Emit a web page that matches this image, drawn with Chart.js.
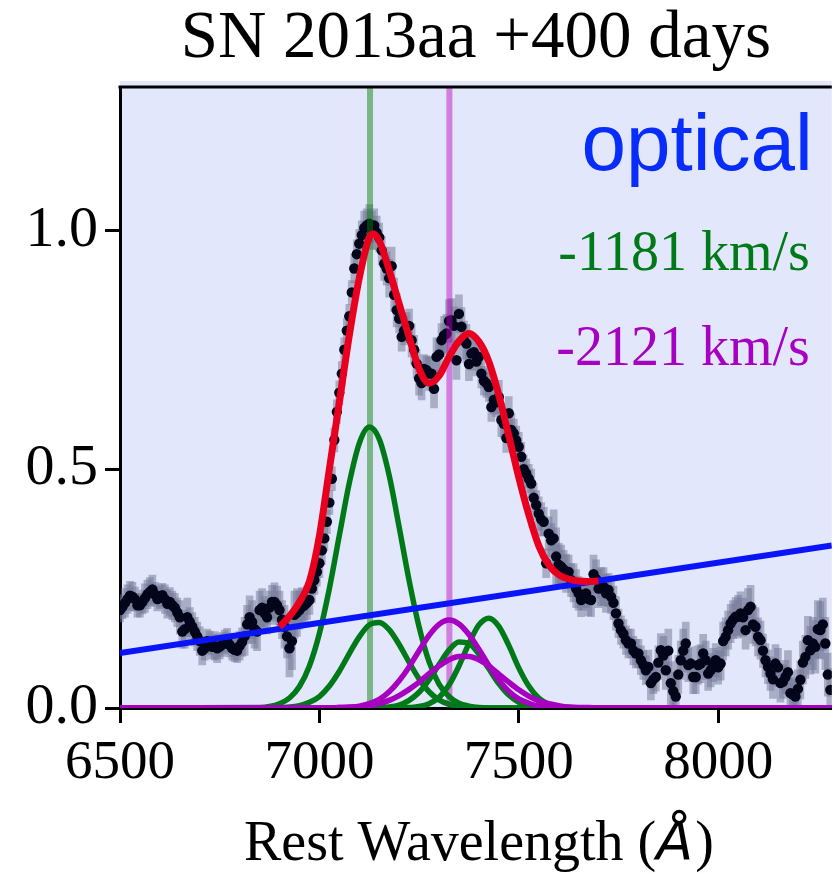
<!DOCTYPE html>
<html>
<head>
<meta charset="utf-8">
<script src="https://cdn.jsdelivr.net/npm/chart.js@4.4.0/dist/chart.umd.min.js"></script>
<style>
  html, body { margin: 0; padding: 0; background: #ffffff; overflow: hidden; }
  canvas { display: block; }
</style>
</head>
<body>
<canvas id="spec" width="837" height="873"></canvas>
<script>
// Observed nebular spectrum (rest wavelength in Angstrom, normalised flux, 1-sigma error)
const wave = [
  6500, 6506.25, 6512.5, 6518.75, 6525, 6531.25, 6537.5, 6543.75, 6550, 6556.25,
  6562.5, 6568.75, 6575, 6581.25, 6587.5, 6593.75, 6600, 6606.25, 6612.5, 6618.75,
  6625, 6631.25, 6637.5, 6643.75, 6650, 6656.25, 6662.5, 6668.75, 6675, 6681.25,
  6687.5, 6693.75, 6700, 6706.25, 6712.5, 6718.75, 6725, 6731.25, 6737.5, 6743.75,
  6750, 6756.25, 6762.5, 6768.75, 6775, 6781.25, 6787.5, 6793.75, 6800, 6806.25,
  6812.5, 6818.75, 6825, 6831.25, 6837.5, 6843.75, 6850, 6856.25, 6862.5, 6868.75,
  6875, 6881.25, 6887.5, 6893.75, 6900, 6906.25, 6912.5, 6918.75, 6925, 6931.25,
  6937.5, 6943.75, 6950, 6956.25, 6962.5, 6968.75, 6975, 6981.25, 6987.5, 6993.75,
  7000, 7006.25, 7012.5, 7018.75, 7025, 7031.25, 7037.5, 7043.75, 7050, 7056.25,
  7062.5, 7068.75, 7075, 7081.25, 7087.5, 7093.75, 7100, 7106.25, 7112.5, 7118.75,
  7125, 7131.25, 7137.5, 7143.75, 7150, 7156.25, 7162.5, 7168.75, 7175, 7181.25,
  7187.5, 7193.75, 7200, 7206.25, 7212.5, 7218.75, 7225, 7231.25, 7237.5, 7243.75,
  7250, 7256.25, 7262.5, 7268.75, 7275, 7281.25, 7287.5, 7293.75, 7300, 7306.25,
  7312.5, 7318.75, 7325, 7331.25, 7337.5, 7343.75, 7350, 7356.25, 7362.5, 7368.75,
  7375, 7381.25, 7387.5, 7393.75, 7400, 7406.25, 7412.5, 7418.75, 7425, 7431.25,
  7437.5, 7443.75, 7450, 7456.25, 7462.5, 7468.75, 7475, 7481.25, 7487.5, 7493.75,
  7500, 7506.25, 7512.5, 7518.75, 7525, 7531.25, 7537.5, 7543.75, 7550, 7556.25,
  7562.5, 7568.75, 7575, 7581.25, 7587.5, 7593.75, 7600, 7606.25, 7612.5, 7618.75,
  7625, 7631.25, 7637.5, 7643.75, 7650, 7656.25, 7662.5, 7668.75, 7675, 7681.25,
  7687.5, 7693.75, 7700, 7706.25, 7712.5, 7718.75, 7725, 7731.25, 7737.5, 7743.75,
  7750, 7756.25, 7762.5, 7768.75, 7775, 7781.25, 7787.5, 7793.75, 7800, 7806.25,
  7812.5, 7818.75, 7825, 7831.25, 7837.5, 7843.75, 7850, 7856.25, 7862.5, 7868.75,
  7875, 7881.25, 7887.5, 7893.75, 7900, 7906.25, 7912.5, 7918.75, 7925, 7931.25,
  7937.5, 7943.75, 7950, 7956.25, 7962.5, 7968.75, 7975, 7981.25, 7987.5, 7993.75,
  8000, 8006.25, 8012.5, 8018.75, 8025, 8031.25, 8037.5, 8043.75, 8050, 8056.25,
  8062.5, 8068.75, 8075, 8081.25, 8087.5, 8093.75, 8100, 8106.25, 8112.5, 8118.75,
  8125, 8131.25, 8137.5, 8143.75, 8150, 8156.25, 8162.5, 8168.75, 8175, 8181.25,
  8187.5, 8193.75, 8200, 8206.25, 8212.5, 8218.75, 8225, 8231.25, 8237.5, 8243.75,
  8250, 8256.25, 8262.5, 8268.75, 8275, 8281.25];

const flux = [
  0.205, 0.212, 0.220, 0.228, 0.235, 0.233, 0.228, 0.215, 0.215, 0.222,
  0.230, 0.238, 0.243, 0.248, 0.238, 0.228, 0.233, 0.236, 0.228, 0.218,
  0.222, 0.215, 0.210, 0.200, 0.190, 0.160, 0.165, 0.190, 0.180, 0.170,
  0.160, 0.150, 0.140, 0.120, 0.125, 0.140, 0.136, 0.128, 0.130, 0.125,
  0.128, 0.133, 0.138, 0.142, 0.132, 0.125, 0.122, 0.120, 0.130, 0.138,
  0.150, 0.175, 0.190, 0.180, 0.165, 0.160, 0.205, 0.210, 0.198, 0.190,
  0.210, 0.222, 0.222, 0.215, 0.205, 0.185, 0.170, 0.150, 0.125, 0.140,
  0.195, 0.200, 0.205, 0.212, 0.215, 0.220, 0.226, 0.250, 0.268, 0.285,
  0.303, 0.330, 0.355, 0.390, 0.430, 0.480, 0.561, 0.620, 0.660, 0.700,
  0.750, 0.790, 0.820, 0.870, 0.920, 0.950, 0.972, 0.990, 1.005, 1.010,
  1.014, 1.000, 1.010, 0.995, 0.985, 0.958, 0.930, 0.920, 0.900, 0.925,
  0.865, 0.833, 0.815, 0.777, 0.790, 0.798, 0.800, 0.770, 0.750, 0.721,
  0.690, 0.680, 0.710, 0.707, 0.700, 0.700, 0.668, 0.735, 0.740, 0.770,
  0.780, 0.784, 0.810, 0.812, 0.800, 0.728, 0.825, 0.798, 0.770, 0.763,
  0.720, 0.742, 0.745, 0.725, 0.735, 0.700, 0.685, 0.680, 0.672, 0.630,
  0.645, 0.640, 0.651, 0.603, 0.595, 0.565, 0.617, 0.582, 0.575, 0.560,
  0.547, 0.526, 0.500, 0.491, 0.480, 0.470, 0.440, 0.425, 0.407, 0.395,
  0.390, 0.303, 0.365, 0.351, 0.355, 0.317, 0.300, 0.296, 0.290, 0.282,
  0.285, 0.268, 0.262, 0.250, 0.240, 0.226, 0.235, 0.240, 0.228, 0.226,
  0.280, 0.270, 0.250, 0.254, 0.254, 0.240, 0.247, 0.233, 0.220, 0.198,
  0.177, 0.163, 0.155, 0.142, 0.135, 0.135, 0.120, 0.114, 0.114, 0.100,
  0.090, 0.079, 0.086, 0.052, 0.060, 0.065, 0.095, 0.121, 0.110, 0.079,
  0.120, 0.052, 0.035, 0.024, 0.070, 0.100, 0.120, 0.135, 0.090, 0.093,
  0.065, 0.065, 0.090, 0.093, 0.114, 0.100, 0.072, 0.079, 0.090, 0.100,
  0.085, 0.093, 0.140, 0.149, 0.163, 0.177, 0.185, 0.191, 0.191, 0.198,
  0.190, 0.163, 0.205, 0.212, 0.175, 0.170, 0.149, 0.142, 0.120, 0.100,
  0.086, 0.072, 0.060, 0.093, 0.085, 0.052, 0.055, 0.065, 0.075, 0.031,
  0.028, 0.024, 0.040, 0.059, 0.095, 0.107, 0.142, 0.121, 0.135, 0.128,
  0.165, 0.163, 0.175, 0.135, 0.070, 0.038];

const fluxErr = [
  0.025, 0.025, 0.030, 0.030, 0.030, 0.030, 0.025, 0.025, 0.025, 0.025,
  0.030, 0.030, 0.030, 0.030, 0.025, 0.025, 0.025, 0.025, 0.030, 0.030,
  0.030, 0.030, 0.030, 0.030, 0.035, 0.035, 0.040, 0.040, 0.030, 0.030,
  0.030, 0.030, 0.030, 0.030, 0.025, 0.025, 0.025, 0.025, 0.030, 0.030,
  0.025, 0.025, 0.025, 0.025, 0.025, 0.025, 0.025, 0.025, 0.030, 0.030,
  0.040, 0.040, 0.045, 0.045, 0.040, 0.040, 0.040, 0.040, 0.035, 0.035,
  0.035, 0.035, 0.040, 0.040, 0.040, 0.040, 0.045, 0.045, 0.060, 0.060,
  0.050, 0.050, 0.040, 0.040, 0.035, 0.035, 0.030, 0.030, 0.030, 0.030,
  0.030, 0.030, 0.025, 0.025, 0.025, 0.025, 0.025, 0.025, 0.025, 0.025,
  0.025, 0.025, 0.025, 0.025, 0.030, 0.030, 0.030, 0.030, 0.035, 0.035,
  0.040, 0.040, 0.035, 0.035, 0.030, 0.030, 0.035, 0.035, 0.040, 0.040,
  0.035, 0.035, 0.030, 0.030, 0.030, 0.030, 0.035, 0.035, 0.030, 0.030,
  0.035, 0.035, 0.030, 0.030, 0.035, 0.035, 0.040, 0.040, 0.035, 0.035,
  0.040, 0.040, 0.045, 0.045, 0.040, 0.040, 0.040, 0.040, 0.040, 0.040,
  0.035, 0.035, 0.030, 0.030, 0.030, 0.030, 0.030, 0.030, 0.030, 0.030,
  0.030, 0.030, 0.035, 0.035, 0.030, 0.030, 0.035, 0.035, 0.030, 0.030,
  0.030, 0.030, 0.030, 0.030, 0.030, 0.030, 0.030, 0.030, 0.035, 0.035,
  0.030, 0.030, 0.035, 0.035, 0.060, 0.060, 0.045, 0.045, 0.040, 0.040,
  0.035, 0.035, 0.040, 0.040, 0.035, 0.035, 0.030, 0.030, 0.035, 0.035,
  0.040, 0.040, 0.040, 0.040, 0.040, 0.040, 0.035, 0.035, 0.035, 0.035,
  0.030, 0.030, 0.030, 0.030, 0.030, 0.030, 0.030, 0.030, 0.030, 0.030,
  0.030, 0.030, 0.035, 0.035, 0.030, 0.030, 0.035, 0.035, 0.040, 0.040,
  0.045, 0.045, 0.040, 0.040, 0.040, 0.040, 0.045, 0.045, 0.035, 0.035,
  0.035, 0.035, 0.040, 0.040, 0.040, 0.040, 0.035, 0.035, 0.035, 0.035,
  0.035, 0.035, 0.040, 0.040, 0.040, 0.040, 0.040, 0.040, 0.045, 0.045,
  0.040, 0.040, 0.045, 0.045, 0.040, 0.040, 0.040, 0.040, 0.035, 0.035,
  0.035, 0.035, 0.040, 0.040, 0.040, 0.040, 0.035, 0.035, 0.045, 0.045,
  0.035, 0.035, 0.040, 0.040, 0.045, 0.045, 0.050, 0.050, 0.055, 0.055,
  0.060, 0.060, 0.055, 0.055, 0.045, 0.045];

// Linear pseudo-continuum under the blend
const contWave = [6500, 8285];
const contFlux = [0.115, 0.340];

// Total model fit (continuum + all Gaussian components)
const fitWave = [6900, 6925, 6950, 6975, 7000, 7025, 7050, 7075, 7100, 7125, 7135,
  7150, 7175, 7200, 7225, 7250, 7275, 7300, 7325, 7350, 7375, 7400, 7425,
  7450, 7475, 7500, 7525, 7550, 7575, 7600, 7625, 7650, 7675, 7700];
const fitFlux = [0.170, 0.192, 0.222, 0.265, 0.360, 0.500, 0.640, 0.780, 0.900, 0.985, 0.993,
  0.978, 0.917, 0.846, 0.777, 0.710, 0.680, 0.695, 0.735, 0.768, 0.784, 0.767, 0.725,
  0.655, 0.570, 0.483, 0.405, 0.340, 0.300, 0.279, 0.270, 0.266, 0.265, 0.266];

// Individual Gaussian components, sampled on a common wavelength grid
const compWave = [6500, 6850, 6875, 6900, 6925, 6950, 6975, 7000, 7025, 7050, 7075,
  7100, 7125, 7150, 7175, 7200, 7225, 7250, 7275, 7300, 7325, 7350, 7375,
  7400, 7425, 7450, 7475, 7500, 7525, 7550, 7575, 7600, 7625, 7650, 7675,
  7700, 7725, 7750, 8285];
// [Fe II] 7155
const fe7155 = [0, 0.001, 0.003, 0.009, 0.021, 0.045, 0.088, 0.156, 0.250, 0.361, 0.471,
  0.554, 0.588, 0.563, 0.487, 0.379, 0.267, 0.170, 0.097, 0.050, 0.024, 0.010, 0.004,
  0.001, 0, 0, 0, 0, 0, 0, 0, 0, 0, 0, 0, 0, 0, 0, 0];
// [Fe II] 7172
const fe7172 = [0, 0, 0, 0.001, 0.002, 0.005, 0.012, 0.024, 0.046, 0.077, 0.114,
  0.149, 0.174, 0.179, 0.164, 0.133, 0.096, 0.061, 0.034, 0.017, 0.008, 0.003, 0.001,
  0, 0, 0, 0, 0, 0, 0, 0, 0, 0, 0, 0, 0, 0, 0, 0];
// [Fe II] 7388
const fe7388 = [0, 0, 0, 0, 0, 0, 0, 0, 0, 0, 0,
  0, 0, 0.001, 0.002, 0.006, 0.016, 0.033, 0.059, 0.091, 0.121, 0.138, 0.135,
  0.113, 0.082, 0.051, 0.027, 0.012, 0.005, 0.002, 0.001, 0, 0, 0, 0, 0, 0, 0, 0];
// [Fe II] 7453
const fe7453 = [0, 0, 0, 0, 0, 0, 0, 0, 0, 0, 0,
  0, 0, 0, 0, 0, 0.001, 0.003, 0.009, 0.022, 0.048, 0.088, 0.135,
  0.174, 0.188, 0.171, 0.131, 0.084, 0.046, 0.021, 0.008, 0.003, 0.001, 0, 0, 0, 0, 0, 0];
// [Ni II] 7378
const ni7378 = [0, 0, 0, 0, 0, 0, 0, 0, 0, 0.001, 0.002,
  0.004, 0.009, 0.018, 0.034, 0.057, 0.086, 0.120, 0.152, 0.175, 0.184, 0.176, 0.154,
  0.123, 0.089, 0.059, 0.035, 0.019, 0.010, 0.004, 0.002, 0.001, 0, 0, 0, 0, 0, 0, 0];
// [Ni II] 7412
const ni7412 = [0, 0, 0, 0, 0, 0, 0, 0, 0, 0.001, 0.001,
  0.002, 0.005, 0.009, 0.016, 0.026, 0.039, 0.054, 0.072, 0.088, 0.101, 0.108, 0.108,
  0.101, 0.088, 0.071, 0.054, 0.038, 0.025, 0.015, 0.009, 0.005, 0.002, 0.001, 0.001,
  0, 0, 0, 0];

// Line-centre markers (blueshifted rest wavelengths)
const feCentre = 7127;   // -1181 km/s
const niCentre = 7326;   // -2121 km/s
const yRange = [0, 1.3];

const xTicks = [6500, 7000, 7500, 8000];
const yTicks = [0.0, 0.5, 1.0];

const SERIF = "'Liberation Serif', 'Times New Roman', serif";
const SANS = "'Liberation Sans', Arial, sans-serif";
const PANEL = 'rgb(226, 231, 251)';
const GREEN = 'rgb(0, 122, 24)';
const PURPLE = 'rgb(166, 0, 192)';

const pts = (xs, ys) => xs.map((x, i) => ({ x, y: ys[i] }));

const curve = (xs, ys, color, width, order) => ({
  type: 'scatter', data: pts(xs, ys), showLine: true, fill: false,
  borderColor: color, borderWidth: width, pointRadius: 0, pointHoverRadius: 0,
  cubicInterpolationMode: 'monotone', order
});

const vline = (x, color) => ({
  type: 'scatter', data: [{ x, y: yRange[0] }, { x, y: yRange[1] }], showLine: true,
  borderColor: color, borderWidth: 6, pointRadius: 0, order: 7, clip: 0
});

// Panel background, top spine, annotations and axis title
const decor = {
  id: 'decor',
  beforeDraw(chart) {
    const { ctx, chartArea: a } = chart;
    ctx.save();
    ctx.fillStyle = '#ffffff';
    ctx.fillRect(0, 0, chart.width, chart.height);
    ctx.fillStyle = PANEL;
    ctx.fillRect(a.left, a.top - 6, a.right - a.left, a.bottom - a.top + 6);
    ctx.restore();
  },
  afterDraw(chart) {
    const { ctx, chartArea: a } = chart;
    ctx.save();
    ctx.strokeStyle = '#000';
    ctx.lineWidth = 3;
    ctx.beginPath();
    ctx.moveTo(a.left - 1.5, a.top);
    ctx.lineTo(a.right, a.top);
    ctx.stroke();

    ctx.textAlign = 'right';
    ctx.textBaseline = 'alphabetic';
    ctx.fillStyle = 'rgb(8, 44, 250)';
    ctx.font = '80px ' + SANS;
    ctx.fillText('optical', a.right - 19, 170);
    ctx.font = '56px ' + SERIF;
    ctx.fillStyle = GREEN;
    ctx.fillText('-1181 km/s', a.right - 22, 270);
    ctx.fillStyle = PURPLE;
    ctx.fillText('-2121 km/s', a.right - 22, 365);

    // x-axis title with italic Angstrom symbol
    const p1 = 'Rest Wavelength (', p2 = '\u00C5', p3 = ')';
    const fS = '56px ' + SERIF, fA = 'italic 54px "DejaVu Sans", ' + SANS;
    ctx.font = fS; const w1 = ctx.measureText(p1).width, w3 = ctx.measureText(p3).width;
    ctx.font = fA; const w2 = ctx.measureText(p2).width;
    let x = (a.left + a.right) / 2 - (w1 + w2 + w3) / 2 + 2;
    const yb = 860;
    ctx.textAlign = 'left';
    ctx.fillStyle = '#000';
    ctx.font = fS; ctx.fillText(p1, x, yb); x += w1;
    ctx.font = fA; ctx.fillText(p2, x, yb); x += w2 + 2;
    ctx.font = fS; ctx.fillText(p3, x, yb);
    ctx.restore();
  }
};

new Chart(document.getElementById('spec'), {
  type: 'scatter',
  data: {
    datasets: [
      {
        type: 'bar', label: 'error',
        data: wave.map((x, i) => ({ x, y: [flux[i] - fluxErr[i], flux[i] + fluxErr[i]] })),
        backgroundColor: 'rgba(112, 118, 148, 0.5)', borderWidth: 0,
        barThickness: 7, grouped: false, order: 9
      },
      {
        type: 'scatter', label: 'data', data: pts(wave, flux),
        pointRadius: 5.2, pointBorderWidth: 0, pointBackgroundColor: '#03061a',
        showLine: false, order: 8
      },
      vline(feCentre, 'rgba(0, 128, 0, 0.47)'),
      vline(niCentre, 'rgba(191, 0, 191, 0.46)'),
      curve(compWave, fe7155, GREEN, 5.5, 6),
      curve(compWave, fe7172, GREEN, 5.5, 6),
      curve(compWave, fe7388, GREEN, 5.5, 6),
      curve(compWave, fe7453, GREEN, 5.5, 6),
      curve(compWave, ni7378, PURPLE, 5.5, 5),
      curve(compWave, ni7412, PURPLE, 5.5, 5),
      curve(contWave, contFlux, 'rgb(10, 20, 250)', 6, 4),
      curve(fitWave, fitFlux, 'rgb(232, 0, 30)', 7, 3)
    ]
  },
  options: {
    responsive: false,
    animation: false,
    events: [],
    layout: { padding: 0 },
    plugins: {
      legend: { display: false },
      tooltip: { enabled: false },
      title: {
        display: true, text: 'SN 2013aa +400 days', color: '#000', fullSize: false,
        font: { family: SERIF, size: 67, weight: 'normal', lineHeight: 1 },
        padding: { top: 6, bottom: 14 }
      }
    },
    scales: {
      x: {
        type: 'linear', min: 6500, max: 8285, offset: false,
        afterFit: (s) => { s.height = 165; },
        afterBuildTicks: (s) => { s.ticks = xTicks.map(v => ({ value: v })); },
        grid: { display: true, offset: false, drawOnChartArea: false, drawTicks: true,
                tickLength: 15, tickWidth: 3, tickColor: '#000' },
        border: { display: true, color: '#000', width: 3 },
        ticks: { color: '#000', padding: 8, maxRotation: 0, autoSkip: false,
                 font: { family: SERIF, size: 55 }, callback: (v) => String(v) }
      },
      y: {
        type: 'linear', min: yRange[0], max: yRange[1],
        afterFit: (s) => { s.width = 120; },
        afterBuildTicks: (s) => { s.ticks = yTicks.map(v => ({ value: v })); },
        grid: { display: true, drawOnChartArea: false, drawTicks: true,
                tickLength: 15, tickWidth: 3, tickColor: '#000' },
        border: { display: true, color: '#000', width: 3 },
        ticks: { color: '#000', padding: 7,
                 font: { family: SERIF, size: 58 }, callback: (v) => v.toFixed(1) }
      }
    }
  },
  plugins: [decor]
});
</script>
</body>
</html>
